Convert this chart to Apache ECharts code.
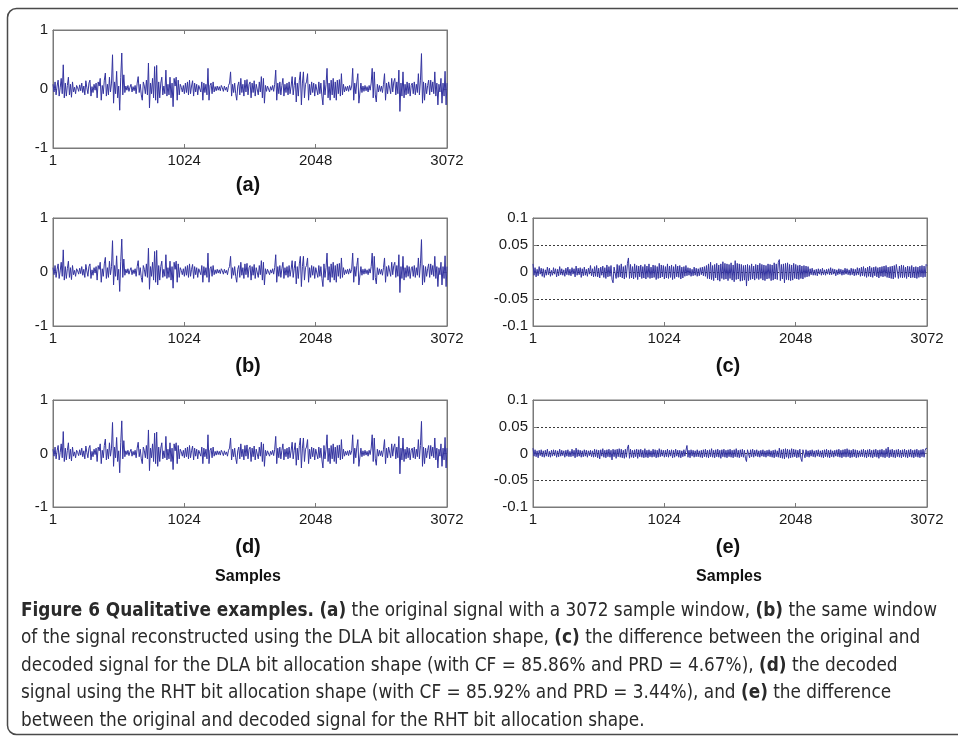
<!DOCTYPE html>
<html><head><meta charset="utf-8">
<script src="https://cdn.jsdelivr.net/npm/echarts@6/dist/echarts.min.js"></script>
<style>html,body{margin:0;padding:0;background:#fff}#c{width:958px;height:737px}</style>
</head><body><div id="c"></div>
<script>
// ---------- data ----------
const SAMPLE_STEP = 8;           // samples between stored points
const LAST_SAMPLE = 3072;
const xTicks = [1, 1024, 2048, 3072];
const signalRange = [-1, 1];
const diffRange = [-0.1, 0.1];
const panelLabels = ['(a)', '(b)', '(c)', '(d)', '(e)'];
const xTitle = 'Samples';

// (a) original signal (one per ~8 samples)
const original = [
0.08,-0.05,0.12,-0.1,0.05,0.15,-0.12,0.02,0.18,-0.08,
0.41,-0.15,0.1,-0.12,0.06,0.2,-0.1,0.08,-0.14,0.12,
-0.05,0.03,-0.08,0.06,0.02,-0.04,0.07,-0.03,0.1,-0.06,
0.05,-0.1,0.14,0.02,-0.08,0.1,0.15,-0.12,0.04,-0.06,
0.08,-0.02,0.1,-0.15,0.12,0.05,0.18,-0.19,0.06,-0.08,
0.15,0.27,-0.12,0.08,-0.1,0.2,-0.05,0.1,0.58,-0.24,
0.12,-0.08,0.3,-0.15,0.05,-0.36,0.2,0.61,-0.1,0.24,
-0.06,0.05,-0.02,0.06,-0.04,0.03,0.08,-0.05,0.04,-0.03,
0.06,-0.08,0.1,0.21,-0.06,0.08,-0.1,-0.19,0.12,0.05,
-0.08,0.15,-0.1,0.44,-0.32,0.1,-0.08,0.18,-0.15,0.38,
-0.19,0.4,-0.24,0.12,-0.15,0.1,0.2,-0.1,0.05,-0.08,
0.32,-0.12,0.08,-0.1,0.2,-0.15,0.1,-0.3,0.18,0.05,
0.2,-0.19,0.15,-0.1,0.08,0.03,-0.05,0.06,-0.08,0.1,
-0.06,0.12,-0.1,0.15,-0.08,0.05,0.14,-0.12,0.1,-0.05,
0.08,-0.1,0.06,0.03,-0.05,0.12,-0.19,0.1,-0.06,0.08,
-0.1,0.35,-0.19,0.06,0.1,-0.08,0.12,-0.05,0.04,-0.03,
0.05,-0.02,0.04,-0.03,0.06,0.02,-0.04,0.05,-0.02,0.03,
-0.05,0.06,0.1,0.29,-0.12,0.08,-0.06,0.1,-0.08,-0.19,
0.05,0.12,-0.1,0.18,-0.06,0.08,-0.12,0.15,-0.05,0.16,
-0.1,0.08,0.12,-0.15,0.1,-0.06,0.14,-0.12,0.08,0.05,
-0.1,0.12,-0.05,0.21,-0.15,0.18,-0.24,0.06,-0.04,0.05,
0.03,-0.05,0.04,-0.02,0.06,-0.04,0.08,0.32,-0.19,0.1,
-0.08,0.12,-0.1,0.06,0.18,-0.12,0.08,-0.06,0.1,-0.1,
0.12,-0.08,0.05,0.21,-0.1,0.06,0.2,-0.22,0.1,-0.12,
0.15,0.29,-0.27,0.1,0.29,-0.15,0.08,0.12,0.26,-0.19,
0.08,-0.1,0.12,-0.06,0.1,-0.12,0.08,0.05,-0.1,0.12,
-0.08,0.1,-0.12,-0.27,0.15,-0.1,0.08,0.35,-0.15,0.1,
-0.19,0.15,-0.1,0.18,-0.15,0.12,-0.19,0.15,-0.08,0.16,
-0.12,0.26,-0.1,0.08,-0.05,0.04,-0.03,0.05,-0.04,0.06,
-0.02,0.05,0.35,-0.19,0.1,-0.08,0.12,0.26,-0.24,-0.27,
0.1,-0.06,0.05,-0.04,0.06,-0.03,0.04,-0.05,0.06,-0.02,
0.1,0.35,-0.15,0.29,-0.1,-0.22,0.08,-0.05,0.06,-0.04,
0.05,-0.06,0.08,0.26,-0.19,0.1,-0.08,0.12,0.12,-0.08,
0.18,-0.05,0.12,0.18,-0.1,0.12,-0.08,0.32,-0.38,0.1,
-0.12,0.29,-0.15,0.08,-0.1,0.12,-0.08,0.1,-0.12,0.06,
0.1,-0.08,0.12,-0.1,0.08,-0.06,0.26,-0.1,0.15,0.6,
-0.24,0.12,-0.19,0.1,-0.08,0.06,0.15,-0.1,0.15,-0.05,
0.12,-0.08,0.29,-0.12,0.1,-0.27,0.08,-0.05,0.18,-0.24,
0.1,-0.12,0.3,-0.27,0.1
];
// (b) and (d) decoded signals are visually indistinguishable from (a)
const decodedDLA = original.slice();
const decodedRHT = original.slice();

// (c) difference original - decoded (DLA)
const diffDLA = [
0.015,-0.006,0.008,-0.009,0.005,-0.007,0.01,-0.004,0.007,-0.008,
0.006,-0.01,0.004,-0.006,0.009,-0.005,0.007,-0.008,0.003,-0.006,
0.008,-0.004,0.006,-0.009,0.005,-0.007,0.01,-0.005,0.006,-0.006,
0.004,-0.008,0.007,-0.005,0.009,-0.006,0.005,-0.007,0.008,-0.004,
0.006,-0.009,0.011,-0.006,0.007,-0.005,0.008,-0.01,0.006,-0.007,
0.009,-0.006,0.005,-0.008,0.007,-0.004,0.012,-0.007,0.006,-0.009,
0.01,-0.008,0.012,-0.009,0.007,-0.011,0.009,-0.006,0.011,-0.01,
0.008,-0.012,0.013,-0.009,0.01,-0.008,0.012,-0.014,-0.02,0.009,
0.011,-0.012,0.014,-0.01,0.012,-0.009,0.015,-0.011,0.01,-0.013,
0.012,-0.01,0.016,0.026,-0.012,0.014,-0.011,0.01,-0.013,0.015,
-0.01,0.012,-0.014,0.011,-0.009,0.013,-0.012,0.01,-0.011,0.014,
-0.013,0.011,-0.01,0.015,-0.012,0.009,-0.011,0.013,-0.01,0.012,
-0.014,0.01,-0.012,0.016,-0.011,0.013,-0.009,0.012,-0.013,0.01,
-0.011,0.015,-0.012,0.011,-0.01,0.013,-0.014,0.01,-0.012,0.014,
-0.009,0.011,-0.01,0.012,-0.013,0.009,-0.011,0.01,-0.008,0.012,
-0.007,0.008,-0.006,0.007,-0.008,0.005,-0.007,0.009,-0.006,0.007,
-0.008,0.006,-0.007,0.008,-0.005,0.009,-0.007,0.01,-0.008,0.012,
-0.012,0.015,-0.013,0.018,-0.014,0.012,-0.016,0.014,-0.011,0.016,
-0.015,0.013,-0.017,0.015,-0.012,0.019,-0.014,0.016,-0.013,0.015,
-0.016,0.014,-0.012,0.017,-0.015,0.013,-0.018,0.021,-0.014,0.016,
-0.013,0.015,-0.017,0.014,-0.016,0.012,-0.015,0.013,-0.026,0.014,
-0.016,0.012,-0.014,0.015,-0.013,0.011,-0.015,0.014,-0.012,0.013,
-0.014,0.016,-0.012,0.014,-0.015,0.013,-0.016,0.012,-0.013,0.015,
-0.012,0.014,-0.016,0.013,-0.015,0.017,-0.013,0.015,-0.014,0.018,
0.023,-0.016,0.014,-0.013,0.015,-0.02,0.016,-0.014,0.017,-0.015,
0.014,-0.016,0.013,-0.015,0.016,-0.012,0.014,-0.013,0.012,-0.014,
0.013,-0.012,0.011,-0.013,0.012,-0.01,0.011,-0.009,0.01,-0.008,
0.006,-0.005,0.007,-0.006,0.004,-0.006,0.005,-0.007,0.006,-0.004,
0.005,-0.006,0.007,-0.005,0.004,-0.006,0.005,-0.004,0.006,-0.005,
0.008,-0.005,0.006,-0.004,0.005,-0.007,0.004,-0.005,0.006,-0.004,
0.005,-0.006,0.004,-0.005,0.007,-0.004,0.006,-0.005,0.004,-0.006,
0.007,-0.005,0.006,-0.007,0.005,-0.006,0.008,-0.005,0.007,-0.008,
0.009,-0.007,0.01,-0.008,0.007,-0.01,0.009,-0.008,0.011,-0.009,
0.008,-0.01,0.009,-0.007,0.01,-0.009,0.008,-0.011,0.009,-0.008,
0.01,-0.009,0.011,-0.008,0.012,-0.01,0.009,-0.011,0.01,-0.012,
0.011,-0.013,0.012,-0.01,0.014,0.015,-0.012,0.011,-0.01,0.013,
-0.011,0.012,-0.01,0.009,-0.012,0.011,-0.009,0.01,-0.011,0.012,
-0.01,0.009,-0.011,0.01,-0.012,0.009,-0.01,0.011,-0.009,0.012,
-0.01,0.011,-0.009,0.014,0.012
];

// (e) difference original - decoded (RHT)
const diffRHT = [
0.01,-0.005,0.007,-0.006,0.005,-0.008,0.006,-0.004,0.007,-0.006,
0.005,-0.007,0.006,-0.005,0.008,-0.006,0.004,-0.007,0.006,-0.005,
0.007,-0.004,0.006,-0.007,0.005,-0.006,0.008,-0.005,0.006,-0.004,
0.005,-0.007,0.006,-0.005,0.007,-0.006,0.004,-0.006,0.008,-0.005,
0.006,-0.008,0.01,-0.006,0.007,-0.005,0.006,-0.007,0.005,-0.006,
0.007,-0.005,0.006,-0.007,0.005,-0.004,0.006,-0.006,0.005,-0.007,
0.008,-0.006,0.007,-0.008,0.006,-0.01,0.007,-0.005,0.009,-0.007,
0.006,-0.008,0.007,-0.006,0.008,-0.007,0.006,-0.012,0.008,-0.006,
0.007,-0.009,0.008,-0.006,0.009,-0.007,0.008,-0.008,0.006,-0.009,
0.008,-0.007,0.01,0.016,-0.009,0.008,-0.007,0.006,-0.008,0.007,
-0.006,0.008,-0.009,0.007,-0.006,0.008,-0.007,0.006,-0.008,0.009,
-0.007,0.006,-0.008,0.007,-0.006,0.005,-0.007,0.008,-0.006,0.007,
-0.008,0.006,-0.007,0.009,-0.006,0.007,-0.005,0.006,-0.007,0.006,
-0.006,0.008,-0.007,0.006,-0.005,0.007,-0.008,0.006,-0.007,0.008,
-0.005,0.006,-0.007,0.006,-0.008,0.005,-0.006,0.007,-0.005,0.006,
0.015,-0.007,0.006,-0.008,0.007,-0.005,0.006,-0.007,0.005,-0.006,
0.007,-0.006,0.005,-0.007,0.006,-0.008,0.007,-0.006,0.008,-0.007,
0.006,-0.008,0.007,-0.006,0.009,-0.007,0.006,-0.008,0.007,-0.006,
0.008,-0.007,0.006,-0.009,0.007,-0.006,0.008,-0.007,0.006,-0.008,
0.007,-0.006,0.008,-0.007,0.006,-0.008,0.007,-0.006,0.009,-0.007,
0.006,-0.008,0.007,-0.006,0.008,-0.007,0.006,-0.009,-0.015,0.007,
0.006,-0.008,0.007,-0.006,0.008,-0.007,0.006,-0.005,0.007,-0.006,
0.005,-0.007,0.006,-0.005,0.007,-0.006,0.005,-0.007,0.006,-0.005,
0.007,-0.006,0.005,-0.007,0.006,-0.008,0.007,-0.006,0.005,-0.007,
0.01,-0.008,0.007,-0.009,0.008,-0.01,0.009,-0.007,0.008,-0.009,
0.007,-0.008,0.009,-0.007,0.008,-0.006,0.007,-0.008,0.006,-0.007,
0.008,-0.009,-0.015,0.007,0.006,-0.008,0.007,-0.006,0.005,-0.007,
0.006,-0.005,0.007,-0.006,0.005,-0.007,0.006,-0.005,0.007,-0.006,
0.005,-0.007,0.006,-0.008,0.007,-0.006,0.008,-0.007,0.006,-0.008,
0.007,-0.006,0.005,-0.007,0.006,-0.005,0.007,-0.006,0.008,-0.007,
0.006,-0.008,0.007,-0.006,0.008,-0.007,0.009,-0.006,0.007,-0.008,
0.006,-0.007,0.008,-0.006,0.007,-0.008,0.006,-0.007,0.005,-0.006,
0.007,-0.006,0.008,-0.007,0.006,-0.008,0.007,-0.006,0.008,-0.007,
0.006,-0.008,0.007,-0.006,0.008,-0.007,0.006,-0.009,0.007,-0.006,
0.008,-0.007,0.006,-0.008,0.009,-0.006,0.012,-0.008,0.007,-0.006,
0.008,-0.007,0.006,-0.008,0.007,-0.006,0.008,-0.007,0.006,-0.008,
0.007,-0.006,0.008,-0.007,0.006,-0.008,0.007,-0.006,0.008,-0.007,
0.006,-0.008,0.007,-0.006,0.008,-0.007,0.006,-0.008,0.007,-0.006,
0.008,-0.007,0.006,0.01,0.009
];

const captionLines = [
  '{b|Figure 6 Qualitative examples.} {b|(a)} the original signal with a 3072 sample window, {b|(b)} the same window',
  'of the signal reconstructed using the DLA bit allocation shape, {b|(c)} the difference between the original and',
  'decoded signal for the DLA bit allocation shape (with CF = 85.86% and PRD = 4.67%), {b|(d)} the decoded',
  'signal using the RHT bit allocation shape (with CF = 85.92% and PRD = 3.44%), and {b|(e)} the difference',
  'between the original and decoded signal for the RHT bit allocation shape.'
];

// ---------- chart ----------
function toPairs(vals) {
  return vals.map((v, i) => [Math.min(1 + i * SAMPLE_STEP, LAST_SAMPLE), v]);
}

const panels = [
  { data: original,   range: signalRange, grid: { left: 53,  top: 30,  width: 394, height: 118 } },
  { data: decodedDLA, range: signalRange, grid: { left: 53,  top: 218, width: 394, height: 108 } },
  { data: diffDLA,    range: diffRange,   grid: { left: 533, top: 218, width: 394, height: 108 } },
  { data: decodedRHT, range: signalRange, grid: { left: 53,  top: 400, width: 394, height: 107 } },
  { data: diffRHT,    range: diffRange,   grid: { left: 533, top: 400, width: 394, height: 107 } }
];

const AX = '#7a7a7a';
const FONT = "'Liberation Sans', Arial, sans-serif";
const grids = [], xAxes = [], yAxes = [], series = [];

panels.forEach((p, i) => {
  const isDiff = p.range === diffRange;
  grids.push(Object.assign({ show: true, borderColor: AX, borderWidth: 1, containLabel: false }, p.grid));
  const xBase = {
    gridIndex: i, type: 'value', min: 1, max: LAST_SAMPLE,
    axisLine: { show: true, onZero: false, lineStyle: { color: AX } },
    axisTick: { show: true, inside: true, length: 4, customValues: xTicks, lineStyle: { color: AX } },
    splitLine: { show: false }
  };
  xAxes.push(Object.assign({}, xBase, {
    position: 'bottom',
    axisLabel: { customValues: xTicks, fontSize: 15, color: '#1a1a1a', margin: 5, fontFamily: FONT,
                 formatter: v => String(Math.round(v)) }
  }));
  xAxes.push(Object.assign({}, xBase, { position: 'top', axisLabel: { show: false } }));
  const yBase = {
    gridIndex: i, type: 'value', min: p.range[0], max: p.range[1],
    interval: isDiff ? 0.05 : 1,
    axisLine: { show: true, onZero: false, lineStyle: { color: AX } },
    axisTick: { show: true, inside: true, length: 4, lineStyle: { color: AX } }
  };
  yAxes.push(Object.assign({}, yBase, {
    position: 'left',
    axisLabel: {
      fontSize: 15, color: '#1a1a1a', margin: 5, fontFamily: FONT,
      formatter: v => String(parseFloat(Number(v).toFixed(3)))
    },
    splitLine: isDiff
      ? { show: true, lineStyle: { type: [2, 2], color: '#3a3a3a', width: 1 } }
      : { show: false }
  }));
  yAxes.push(Object.assign({}, yBase, { position: 'right', axisLabel: { show: false }, splitLine: { show: false } }));
  series.push({
    type: 'line', xAxisIndex: 2 * i, yAxisIndex: 2 * i,
    data: toPairs(p.data), showSymbol: false, symbol: 'none',
    lineStyle: { color: '#3434a0', width: 1 }, animation: false, silent: true
  });
});

const graphics = [
  { type: 'rect', shape: { x: 7.5, y: 8.5, width: 1000, height: 726, r: 9 },
    style: { fill: 'none', stroke: '#4a4a4a', lineWidth: 1.5 }, silent: true }
];
const labelPos = [[248, 185], [248, 366], [728, 366], [248, 547], [728, 547]];
panelLabels.forEach((t, i) => graphics.push({
  type: 'text', x: labelPos[i][0], y: labelPos[i][1],
  style: { text: t, font: "bold 20px 'Liberation Sans', Arial, sans-serif", fill: '#111',
           textAlign: 'center', textVerticalAlign: 'middle' }
}));
[[248, 577], [729, 577]].forEach(pos => graphics.push({
  type: 'text', x: pos[0], y: pos[1],
  style: { text: xTitle, font: "bold 16px 'Liberation Sans', Arial, sans-serif", fill: '#111',
           textAlign: 'center', textVerticalAlign: 'middle' }
}));
const capY = [611, 638.5, 666, 693.5, 721];
const CAP_FONT = "'Liberation Sans Narrow', 'DejaVu Sans Condensed', sans-serif";
captionLines.forEach((line, i) => graphics.push({
  type: 'text', x: 21, y: capY[i],
  style: {
    text: line, fill: '#2a2a2a', textVerticalAlign: 'middle',
    fontSize: 18.8, fontFamily: CAP_FONT,
    rich: { b: { fontWeight: 'bold', fontSize: 18.8, fill: '#2a2a2a', fontFamily: CAP_FONT } }
  }
}));

const chart = echarts.init(document.getElementById('c'), null, { renderer: 'canvas' });
chart.setOption({
  animation: false,
  backgroundColor: '#fff',
  grid: grids, xAxis: xAxes, yAxis: yAxes, series: series,
  graphic: graphics
});
</script></body></html>
